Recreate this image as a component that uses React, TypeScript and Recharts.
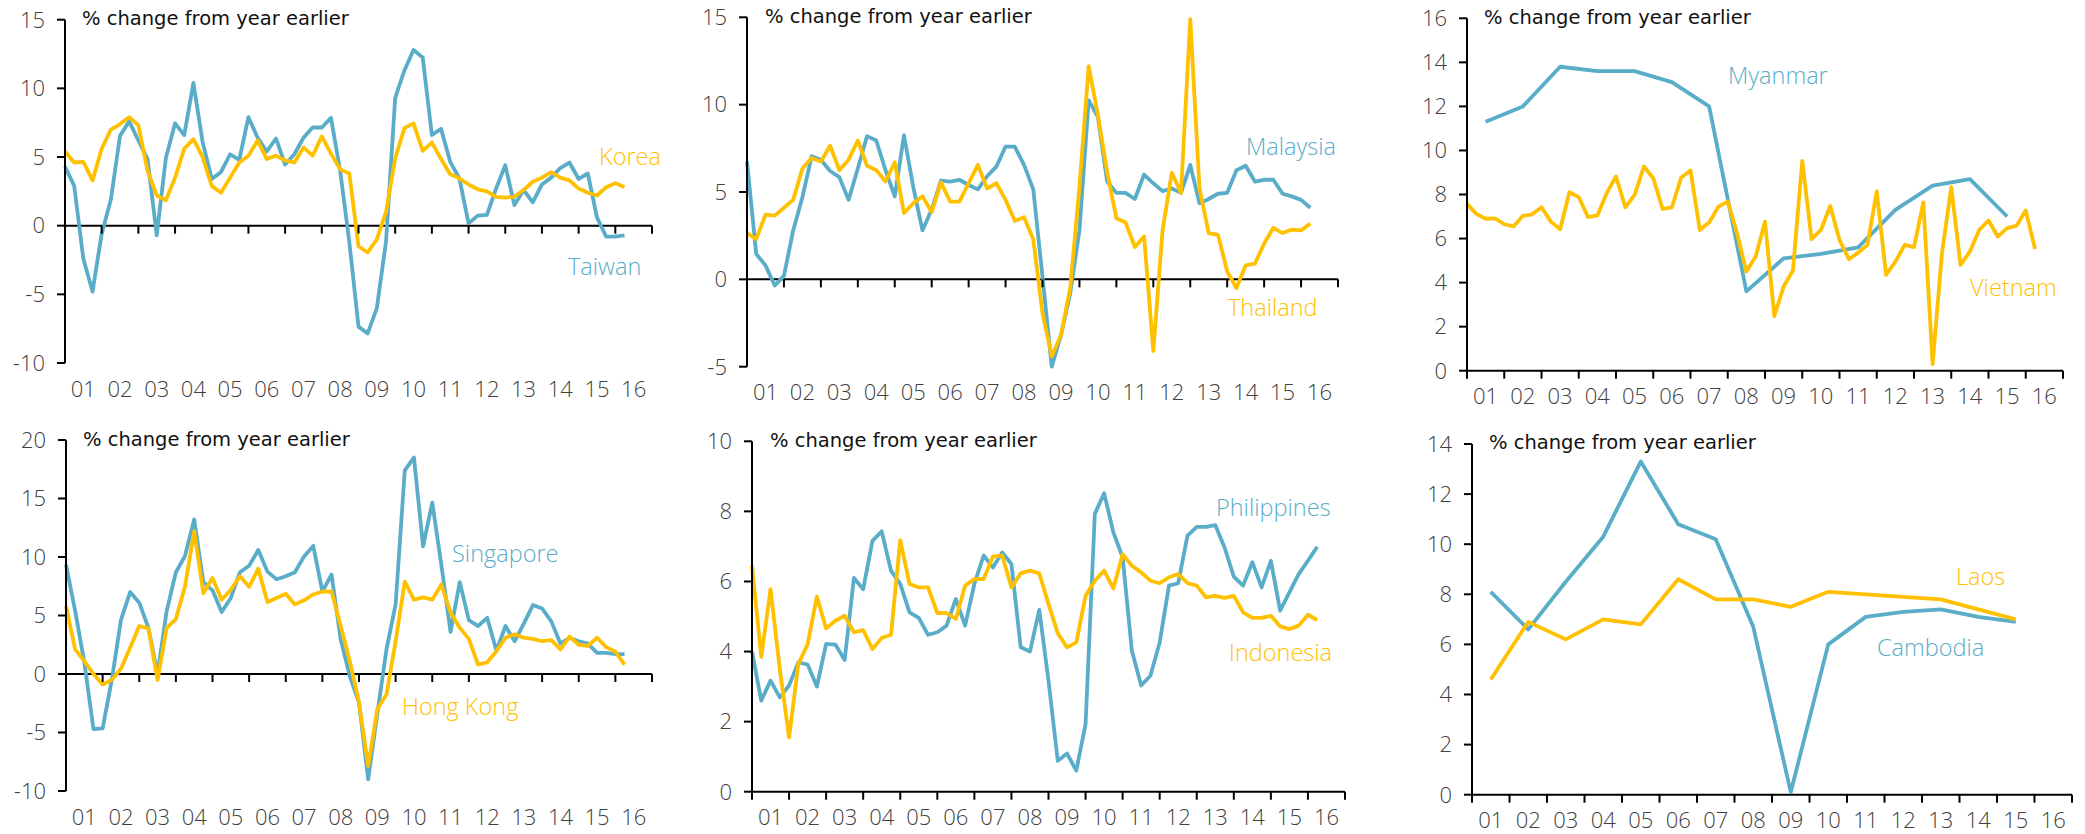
import { LineChart, Line, XAxis, YAxis, ReferenceLine, ReferenceDot } from "recharts";

const BLUE = "#5AADC8";
const GOLD = "#FFC000";
const TICK_COLOR = "#404040";
const TICK_FONT = "'Open Sans', 'DejaVu Sans', sans-serif";
const LABEL_FONT = "'Open Sans', 'DejaVu Sans', sans-serif";
const TITLE_FONT = "'DejaVu Sans', sans-serif";

// x axis: one slot per year, labels sit in the middle of each year
const YEARS = [2001, 2002, 2003, 2004, 2005, 2006, 2007, 2008, 2009, 2010, 2011, 2012, 2013, 2014, 2015, 2016];
const YEAR_LABELS = ["01", "02", "03", "04", "05", "06", "07", "08", "09", "10", "11", "12", "13", "14", "15", "16"];
const AXIS_END = 2017;
const QUARTER_STEPS = [0, 0.25, 0.5, 0.75];
const MID_YEAR = 0.5;

// quarterly series, 2001Q1 .. 2016Q2 (% change from year earlier)
const TAIWAN = [4.3, 2.9, -2.4, -4.8, -0.6, 1.9, 6.55, 7.6, 6.2, 4.85, -0.7, 4.95, 7.45, 6.6, 10.4, 6.1, 3.4, 3.9, 5.2, 4.8, 7.9, 6.4, 5.4, 6.35, 4.45, 5.2, 6.4, 7.15, 7.15, 7.85, 4.0, -1.2, -7.35, -7.85, -6.0, -1.15, 9.3, 11.3, 12.8, 12.25, 6.6, 7.05, 4.65, 3.45, 0.17, 0.73, 0.78, 2.7, 4.4, 1.5, 2.6, 1.7, 3.0, 3.5, 4.2, 4.6, 3.4, 3.8, 0.6, -0.8, -0.8, -0.7];
const KOREA = [5.4, 4.6, 4.65, 3.3, 5.6, 7.0, 7.4, 7.9, 7.3, 4.0, 2.2, 1.85, 3.5, 5.6, 6.3, 5.0, 2.9, 2.4, 3.5, 4.6, 5.1, 6.2, 4.85, 5.1, 4.75, 4.6, 5.7, 5.1, 6.5, 5.25, 4.1, 3.8, -1.5, -1.95, -1.0, 1.0, 4.9, 7.1, 7.45, 5.45, 6.05, 4.85, 3.75, 3.45, 3.0, 2.65, 2.5, 2.1, 2.05, 2.1, 2.6, 3.2, 3.5, 3.9, 3.5, 3.3, 2.7, 2.4, 2.2, 2.8, 3.1, 2.8];
const MALAYSIA = [6.75, 1.45, 0.8, -0.35, 0.2, 2.8, 4.7, 7.05, 6.85, 6.2, 5.85, 4.55, 6.35, 8.2, 7.95, 6.25, 4.75, 8.25, 5.3, 2.8, 4.0, 5.65, 5.6, 5.7, 5.4, 5.15, 5.9, 6.45, 7.6, 7.6, 6.55, 5.15, 0.15, -5.0, -3.2, -0.8, 2.8, 10.25, 9.3, 5.6, 4.95, 4.95, 4.6, 6.0, 5.5, 5.05, 5.2, 4.95, 6.55, 4.35, 4.6, 4.9, 4.95, 6.25, 6.5, 5.6, 5.7, 5.7, 4.9, 4.75, 4.55, 4.1];
const THAILAND = [2.65, 2.3, 3.7, 3.65, 4.1, 4.55, 6.35, 6.95, 6.75, 7.65, 6.25, 6.85, 7.95, 6.5, 6.25, 5.6, 6.7, 3.8, 4.35, 4.75, 3.85, 5.55, 4.45, 4.45, 5.5, 6.55, 5.2, 5.5, 4.55, 3.35, 3.55, 2.3, -1.95, -4.4, -3.2, -0.5, 5.3, 12.2, 9.4, 6.15, 3.5, 3.25, 1.85, 2.45, -4.1, 2.8, 6.1, 4.95, 14.9, 5.2, 2.65, 2.55, 0.45, -0.5, 0.8, 0.9, 2.05, 2.95, 2.65, 2.85, 2.8, 3.2];
const VIETNAM = [7.58, 7.12, 6.9, 6.92, 6.65, 6.55, 7.03, 7.1, 7.42, 6.77, 6.42, 8.1, 7.88, 6.97, 7.05, 8.06, 8.82, 7.42, 7.98, 9.27, 8.74, 7.35, 7.42, 8.77, 9.09, 6.39, 6.73, 7.45, 7.68, 6.24, 4.5, 5.18, 6.77, 2.48, 3.82, 4.55, 9.53, 5.97, 6.39, 7.48, 5.94, 5.06, 5.36, 5.71, 8.14, 4.35, 4.95, 5.71, 5.61, 7.64, 0.3, 5.33, 8.33, 4.8, 5.41, 6.39, 6.82, 6.09, 6.47, 6.58, 7.27, 5.52];
const SINGAPORE = [9.35, 5.4, 1.0, -4.7, -4.65, -0.5, 4.6, 7.0, 6.1, 3.95, 0.0, 5.4, 8.7, 10.1, 13.2, 7.85, 7.15, 5.3, 6.5, 8.7, 9.25, 10.6, 8.75, 8.1, 8.35, 8.7, 10.05, 10.95, 7.05, 8.5, 2.95, -0.2, -2.45, -9.0, -3.4, 2.1, 5.95, 17.4, 18.5, 10.9, 14.65, 9.3, 3.6, 7.85, 4.6, 4.1, 4.8, 2.0, 4.1, 2.8, 4.3, 5.9, 5.6, 4.5, 2.6, 3.1, 2.8, 2.6, 1.8, 1.8, 1.7, 1.7];
const HONG_KONG = [5.8, 2.1, 1.1, 0.0, -0.9, -0.5, 0.45, 2.25, 4.1, 3.9, -0.5, 3.95, 4.7, 7.5, 12.2, 6.9, 8.2, 6.35, 7.2, 8.35, 7.45, 9.0, 6.15, 6.5, 6.85, 5.95, 6.3, 6.8, 7.05, 7.05, 4.1, 1.1, -2.45, -7.85, -3.0, -1.75, 2.8, 7.9, 6.35, 6.55, 6.35, 7.65, 5.25, 3.95, 3.0, 0.8, 1.0, 1.95, 3.1, 3.4, 3.1, 3.0, 2.8, 2.9, 2.1, 3.2, 2.5, 2.4, 3.1, 2.3, 1.9, 0.8];
const PHILIPPINES = [4.0, 2.6, 3.17, 2.69, 3.03, 3.69, 3.63, 3.0, 4.22, 4.2, 3.76, 6.1, 5.78, 7.16, 7.43, 6.31, 5.93, 5.12, 4.96, 4.48, 4.55, 4.74, 5.5, 4.74, 5.93, 6.74, 6.4, 6.83, 6.5, 4.12, 4.0, 5.19, 3.17, 0.88, 1.09, 0.6, 1.93, 7.93, 8.52, 7.4, 6.69, 4.02, 3.03, 3.31, 4.26, 5.88, 5.95, 7.31, 7.56, 7.56, 7.61, 6.97, 6.14, 5.88, 6.55, 5.83, 6.59, 5.17, 5.69, 6.21, 6.59, 6.99];
const INDONESIA = [6.45, 3.85, 5.78, 3.5, 1.55, 3.64, 4.21, 5.57, 4.66, 4.88, 5.02, 4.55, 4.61, 4.07, 4.39, 4.48, 7.18, 5.93, 5.83, 5.83, 5.1, 5.1, 4.93, 5.88, 6.07, 6.07, 6.71, 6.74, 5.83, 6.23, 6.31, 6.23, 5.36, 4.52, 4.12, 4.26, 5.59, 6.02, 6.31, 5.8, 6.78, 6.45, 6.26, 6.02, 5.95, 6.12, 6.21, 5.95, 5.88, 5.55, 5.59, 5.53, 5.59, 5.12, 4.96, 4.96, 5.02, 4.72, 4.64, 4.74, 5.05, 4.9];

// annual series, 2001 .. 2015
const MYANMAR = [11.3, 12.0, 13.8, 13.6, 13.6, 13.1, 12.0, 3.6, 5.1, 5.3, 5.6, 7.3, 8.4, 8.7, 7.0];
const CAMBODIA = [8.1, 6.6, 8.5, 10.3, 13.3, 10.8, 10.2, 6.7, 0.1, 6.0, 7.1, 7.3, 7.4, 7.1, 6.9];
const LAOS = [4.6, 6.9, 6.2, 7.0, 6.8, 8.6, 7.8, 7.8, 7.5, 8.1, 8.0, 7.9, 7.8, 7.4, 7.0];

type Pt = { x: number; v: number };

function quarterly(values: number[]): Pt[] {
  const slots: number[] = [];
  YEARS.forEach((y) => QUARTER_STEPS.forEach((q) => slots.push(y + q)));
  return values.map((v, i) => ({ x: slots[i], v }));
}

function annual(values: number[]): Pt[] {
  return values.map((v, i) => ({ x: YEARS[i] + MID_YEAR, v }));
}

const LABEL_TICKS = YEARS.map((y) => y + MID_YEAR);
const MARK_YEARS = [...YEARS, AXIS_END];

const BOX_W = 695;
const BOX_H = 417;

const TickMark = (p: any) => (
  <line x1={p.cx} y1={p.cy} x2={p.cx} y2={p.cy + 8} stroke="#000" strokeWidth={2} />
);

interface Series { data: Pt[]; color: string }
interface Tag { text: string; color: string; x: number; y: number }
interface PanelProps {
  left: number;
  top: number;
  plot: { l: number; r: number; t: number; b: number };
  domain: [number, number];
  yTicks: number[];
  lines: Series[];
  title: { x: number; y: number };
  tags: Tag[];
}

const tickStyle = { fill: TICK_COLOR, fontSize: 22, fontFamily: TICK_FONT, fontWeight: 300 };

function Panel({ left, top, plot, domain, yTicks, lines, title, tags }: PanelProps) {
  const margin = { top: plot.t - top, right: left + BOX_W - plot.r, bottom: 0, left: 0 };
  return (
    <>
      <div style={{ position: "absolute", left, top }}>
        <LineChart width={BOX_W} height={BOX_H} margin={margin} style={{ overflow: "visible" }}>
          <XAxis
            type="number"
            dataKey="x"
            domain={[YEARS[0], AXIS_END]}
            ticks={LABEL_TICKS}
            interval={0}
            tickFormatter={(v: number) => YEAR_LABELS[Math.floor(v) - YEARS[0]]}
            axisLine={false}
            tickLine={false}
            tickSize={0}
            tickMargin={18}
            height={top + BOX_H - plot.b}
            tick={tickStyle}
          />
          <YAxis
            type="number"
            domain={domain}
            ticks={yTicks}
            interval={0}
            width={plot.l - left}
            axisLine={{ stroke: "#000", strokeWidth: 2 }}
            tickLine={{ stroke: "#000", strokeWidth: 2 }}
            tickSize={8}
            tickMargin={12}
            tick={tickStyle}
          />
          <ReferenceLine y={0} stroke="#000" strokeWidth={2} />
          {MARK_YEARS.map((y) => (
            <ReferenceDot key={y} x={y} y={0} r={0} ifOverflow="visible" shape={TickMark} />
          ))}
          {lines.map((s, i) => (
            <Line
              key={i}
              data={s.data}
              dataKey="v"
              type="linear"
              stroke={s.color}
              strokeWidth={3.8}
              strokeLinejoin="round"
              dot={false}
              activeDot={false}
              isAnimationActive={false}
            />
          ))}
        </LineChart>
      </div>
      <div
        style={{
          position: "absolute",
          left: title.x,
          top: title.y,
          transform: "translateY(-50%)",
          fontFamily: TITLE_FONT,
          fontSize: 19.5,
          lineHeight: 1,
          color: "#111",
          whiteSpace: "nowrap",
        }}
      >
        % change from year earlier
      </div>
      {tags.map((t) => (
        <div
          key={t.text}
          style={{
            position: "absolute",
            left: t.x,
            top: t.y,
            transform: "translateY(-50%)",
            fontFamily: LABEL_FONT,
            fontWeight: 300,
            fontSize: 23.5,
            lineHeight: 1,
            color: t.color,
            whiteSpace: "nowrap",
          }}
        >
          {t.text}
        </div>
      ))}
    </>
  );
}

export default function App() {
  return (
    <div
      style={{
        position: "absolute",
        left: 0,
        top: 0,
        width: 2085,
        height: 834,
        background: "#fff",
        overflow: "hidden",
      }}
    >
      <Panel
        left={0}
        top={0}
        plot={{ l: 65, r: 652, t: 19.7, b: 363 }}
        domain={[-10, 15]}
        yTicks={[-10, -5, 0, 5, 10, 15]}
        lines={[
          { data: quarterly(TAIWAN), color: BLUE },
          { data: quarterly(KOREA), color: GOLD },
        ]}
        title={{ x: 82, y: 19 }}
        tags={[
          { text: "Korea", color: GOLD, x: 599, y: 157 },
          { text: "Taiwan", color: BLUE, x: 568, y: 267 },
        ]}
      />
      <Panel
        left={695}
        top={0}
        plot={{ l: 747, r: 1338, t: 17.3, b: 366.7 }}
        domain={[-5, 15]}
        yTicks={[-5, 0, 5, 10, 15]}
        lines={[
          { data: quarterly(MALAYSIA), color: BLUE },
          { data: quarterly(THAILAND), color: GOLD },
        ]}
        title={{ x: 765, y: 17 }}
        tags={[
          { text: "Malaysia", color: BLUE, x: 1246, y: 147 },
          { text: "Thailand", color: GOLD, x: 1228, y: 308 },
        ]}
      />
      <Panel
        left={1390}
        top={0}
        plot={{ l: 1467, r: 2063, t: 18.3, b: 370.7 }}
        domain={[0, 16]}
        yTicks={[0, 2, 4, 6, 8, 10, 12, 14, 16]}
        lines={[
          { data: annual(MYANMAR), color: BLUE },
          { data: quarterly(VIETNAM), color: GOLD },
        ]}
        title={{ x: 1484, y: 18 }}
        tags={[
          { text: "Myanmar", color: BLUE, x: 1728, y: 76 },
          { text: "Vietnam", color: GOLD, x: 1970, y: 288 },
        ]}
      />
      <Panel
        left={0}
        top={417}
        plot={{ l: 66, r: 652, t: 440, b: 791 }}
        domain={[-10, 20]}
        yTicks={[-10, -5, 0, 5, 10, 15, 20]}
        lines={[
          { data: quarterly(SINGAPORE), color: BLUE },
          { data: quarterly(HONG_KONG), color: GOLD },
        ]}
        title={{ x: 83, y: 440 }}
        tags={[
          { text: "Singapore", color: BLUE, x: 452, y: 554 },
          { text: "Hong Kong", color: GOLD, x: 402, y: 707 },
        ]}
      />
      <Panel
        left={695}
        top={417}
        plot={{ l: 752, r: 1345, t: 441.3, b: 791.7 }}
        domain={[0, 10]}
        yTicks={[0, 2, 4, 6, 8, 10]}
        lines={[
          { data: quarterly(PHILIPPINES), color: BLUE },
          { data: quarterly(INDONESIA), color: GOLD },
        ]}
        title={{ x: 770, y: 441 }}
        tags={[
          { text: "Philippines", color: BLUE, x: 1216, y: 508 },
          { text: "Indonesia", color: GOLD, x: 1229, y: 653 },
        ]}
      />
      <Panel
        left={1390}
        top={417}
        plot={{ l: 1472, r: 2072, t: 444, b: 794.7 }}
        domain={[0, 14]}
        yTicks={[0, 2, 4, 6, 8, 10, 12, 14]}
        lines={[
          { data: annual(CAMBODIA), color: BLUE },
          { data: annual(LAOS), color: GOLD },
        ]}
        title={{ x: 1489, y: 443 }}
        tags={[
          { text: "Laos", color: GOLD, x: 1956, y: 577 },
          { text: "Cambodia", color: BLUE, x: 1877, y: 648 },
        ]}
      />
    </div>
  );
}
